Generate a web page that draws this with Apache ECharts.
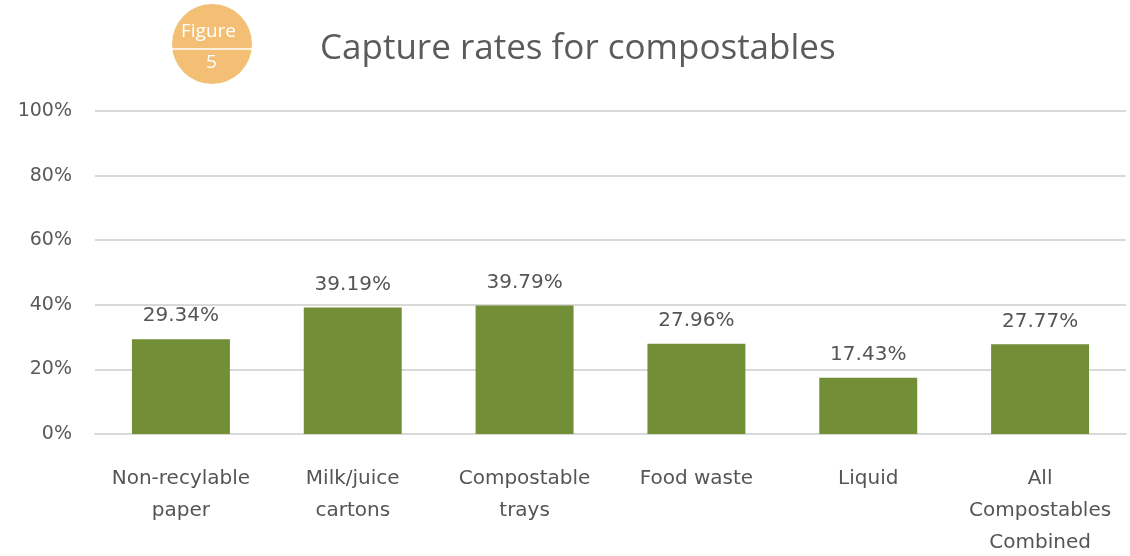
<!DOCTYPE html>
<html>
<head>
<meta charset="utf-8">
<script src="https://cdn.jsdelivr.net/npm/echarts@6/dist/echarts.min.js"></script>
<style>
  html, body { margin: 0; padding: 0; background: #fff; }
  #chart { width: 1130px; height: 556px; }
</style>
</head>
<body>
<div id="chart"></div>
<script>
// categories and values
var categories = ['Non-recylable\npaper', 'Milk/juice\ncartons', 'Compostable\ntrays', 'Food waste', 'Liquid', 'All\nCompostables\nCombined'];
var captureRates = [29.34, 39.19, 39.79, 27.96, 17.43, 27.77];
var yTicks = [0, 20, 40, 60, 80, 100];

var myChart = echarts.init(document.getElementById('chart'));

myChart.setOption({
  animation: false,
  textStyle: { fontFamily: 'DejaVu Sans' },
  title: {
    text: 'Capture rates for compostables',
    left: 315,
    top: 27,
    textStyle: { color: '#5b5b5b', fontSize: 35, fontWeight: 'normal', fontFamily: 'Open Sans' }
  },
  graphic: [
    // "Figure 5" badge
    { type: 'circle', shape: { cx: 212, cy: 44, r: 40 }, style: { fill: '#f3bf74' } },
    { type: 'line', shape: { x1: 172, y1: 49, x2: 252, y2: 49 }, style: { stroke: '#fff', lineWidth: 1.5 } },
    { type: 'text', left: 181, top: 22, style: { text: 'Figure', fill: '#fff', fontSize: 19, fontFamily: 'Open Sans' } },
    { type: 'text', left: 206, top: 53, style: { text: '5', fill: '#fff', fontSize: 19, fontFamily: 'Open Sans' } }
  ],
  grid: { left: 95, right: 4, top: 111, bottom: 122, outerBoundsMode: 'none' },
  xAxis: {
    type: 'category',
    data: categories,
    axisLine: { lineStyle: { color: '#d9d9d9', width: 2 } },
    axisTick: { show: false },
    axisLabel: { interval: 0, color: '#555', fontSize: 20, margin: 29, lineHeight: 32, fontFamily: 'DejaVu Sans' }
  },
  yAxis: {
    type: 'value',
    min: yTicks[0],
    max: yTicks[yTicks.length - 1],
    interval: 20,
    axisLine: { show: false },
    axisTick: { show: false },
    axisLabel: { color: '#595959', fontSize: 19, margin: 23, formatter: '{value}%', fontFamily: 'DejaVu Sans' },
    splitLine: { lineStyle: { color: '#d9d9d9', width: 2 } }
  },
  series: [{
    type: 'bar',
    data: captureRates,
    barWidth: '57%',
    itemStyle: { color: '#728e37' },
    label: {
      show: true,
      position: 'top',
      distance: 13,
      color: '#555',
      fontSize: 20,
      fontFamily: 'DejaVu Sans',
      formatter: function (p) { return p.value.toFixed(2) + '%'; }
    }
  }]
});
</script>
</body>
</html>
